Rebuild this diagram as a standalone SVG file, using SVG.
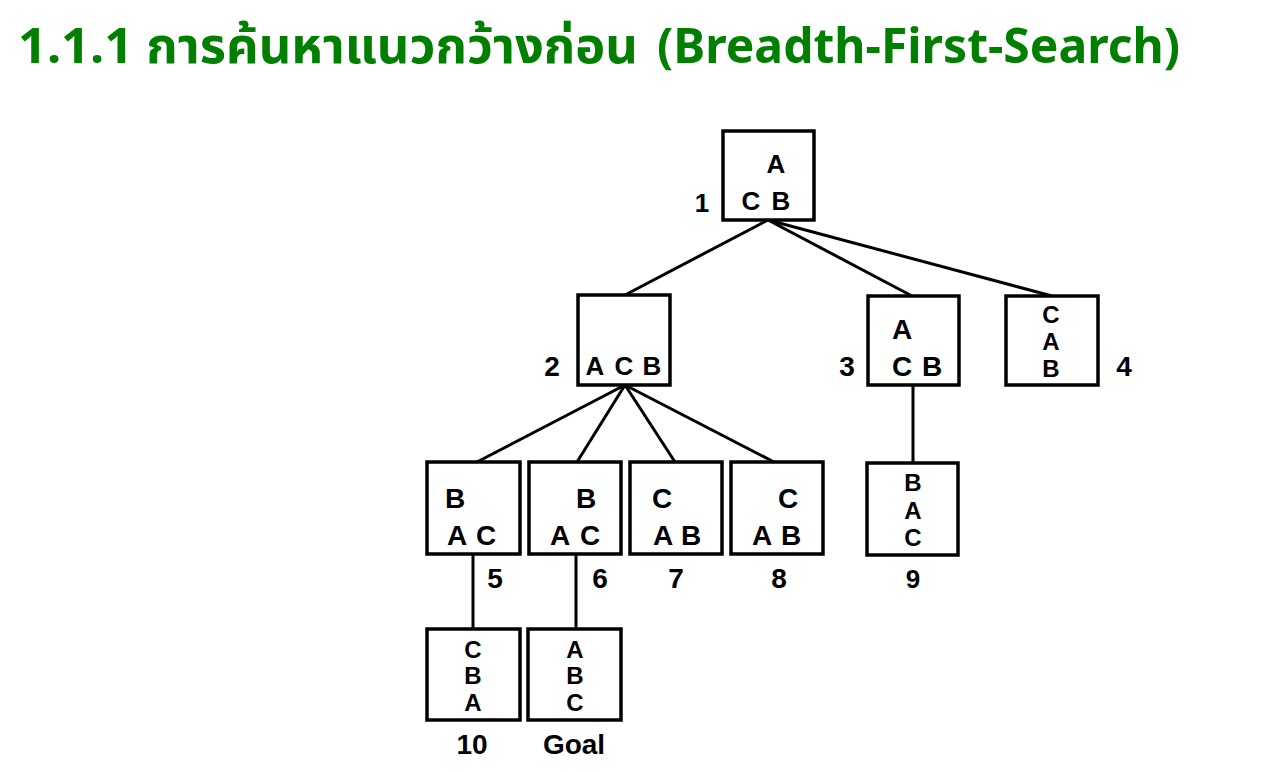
<svg xmlns="http://www.w3.org/2000/svg" width="1276" height="772" viewBox="0 0 1276 772">
<style>
.title{font-family:"Noto Sans","Noto Sans Thai","DejaVu Sans",sans-serif;font-size:49px;font-weight:bold;fill:#007f00}
.box{fill:#fff;stroke:#000;stroke-width:3.5}
.t{font-family:"Liberation Sans",Arial,sans-serif;font-weight:bold;fill:#000;text-anchor:middle}
.s24{font-size:24px}
.s26{font-size:26px}
.s28{font-size:28px}
.s30{font-size:29px}
.edge{stroke:#000;stroke-width:3;fill:none}
</style>
<rect width="1276" height="772" fill="#fff"/>
<text class="title" x="18" y="63" textLength="620" lengthAdjust="spacingAndGlyphs">1.1.1 การค้นหาแนวกว้างก่อน</text>
<text class="title" x="657" y="63" font-weight="600" textLength="523" lengthAdjust="spacingAndGlyphs">(Breadth-First-Search)</text>
<g id="connectors">
<line class="edge" x1="768" y1="220" x2="625" y2="295"/>
<line class="edge" x1="768" y1="220" x2="912" y2="296"/>
<line class="edge" x1="768" y1="220" x2="1052" y2="296"/>
<line class="edge" x1="625" y1="385" x2="477" y2="462"/>
<line class="edge" x1="625" y1="385" x2="577" y2="462"/>
<line class="edge" x1="625" y1="385" x2="675" y2="462"/>
<line class="edge" x1="625" y1="385" x2="774" y2="462"/>
<line class="edge" x1="913" y1="385" x2="913" y2="463"/>
<line class="edge" x1="473" y1="554" x2="473" y2="629"/>
<line class="edge" x1="576" y1="554" x2="576" y2="629"/>
</g>
<g id="n1">
<rect class="box" x="723" y="131" width="91" height="89"/>
<text class="t s26" x="776" y="173">A</text>
<text class="t s26" x="751" y="210">C</text>
<text class="t s26" x="781" y="210">B</text>
<text class="t s26" x="702" y="212">1</text>
</g>
<g id="n2">
<rect class="box" x="578" y="295" width="92" height="90"/>
<text class="t s26" x="595" y="375">A</text>
<text class="t s26" x="624" y="375">C</text>
<text class="t s26" x="652" y="375">B</text>
<text class="t s28" x="552" y="376">2</text>
</g>
<g id="n3">
<rect class="box" x="868" y="296" width="91" height="89"/>
<text class="t s28" x="902" y="339">A</text>
<text class="t s28" x="902" y="376">C</text>
<text class="t s28" x="932" y="376">B</text>
<text class="t s28" x="847" y="376">3</text>
</g>
<g id="n4">
<rect class="box" x="1006" y="296" width="92" height="89"/>
<text class="t s24" x="1051" y="323">C</text>
<text class="t s24" x="1051" y="350">A</text>
<text class="t s24" x="1051" y="377">B</text>
<text class="t s28" x="1124" y="376">4</text>
</g>
<g id="n5">
<rect class="box" x="427" y="462" width="93" height="92"/>
<text class="t s28" x="455" y="508">B</text>
<text class="t s28" x="457" y="545">A</text>
<text class="t s28" x="486" y="545">C</text>
<text class="t s28" x="495" y="588">5</text>
</g>
<g id="n6">
<rect class="box" x="529" y="462" width="92" height="92"/>
<text class="t s28" x="586" y="508">B</text>
<text class="t s28" x="560" y="545">A</text>
<text class="t s28" x="590" y="545">C</text>
<text class="t s28" x="600" y="588">6</text>
</g>
<g id="n7">
<rect class="box" x="630" y="462" width="92" height="92"/>
<text class="t s28" x="662" y="508">C</text>
<text class="t s28" x="663" y="545">A</text>
<text class="t s28" x="691" y="545">B</text>
<text class="t s28" x="676" y="588">7</text>
</g>
<g id="n8">
<rect class="box" x="731" y="462" width="92" height="92"/>
<text class="t s28" x="788" y="508">C</text>
<text class="t s28" x="762" y="545">A</text>
<text class="t s28" x="791" y="545">B</text>
<text class="t s28" x="779" y="588">8</text>
</g>
<g id="n9">
<rect class="box" x="867" y="463" width="91" height="92"/>
<text class="t s24" x="913" y="491">B</text>
<text class="t s24" x="913" y="519">A</text>
<text class="t s24" x="913" y="546">C</text>
<text class="t s26" x="913" y="588">9</text>
</g>
<g id="n10">
<rect class="box" x="427" y="629" width="93" height="91"/>
<text class="t s24" x="473" y="658">C</text>
<text class="t s24" x="473" y="684">B</text>
<text class="t s24" x="473" y="711">A</text>
<text class="t s28" x="472" y="754">10</text>
</g>
<g id="goal">
<rect class="box" x="528" y="629" width="93" height="91"/>
<text class="t s24" x="575" y="658">A</text>
<text class="t s24" x="575" y="684">B</text>
<text class="t s24" x="575" y="711">C</text>
<text class="t s28" x="574" y="754">Goal</text>
</g>
</svg>
